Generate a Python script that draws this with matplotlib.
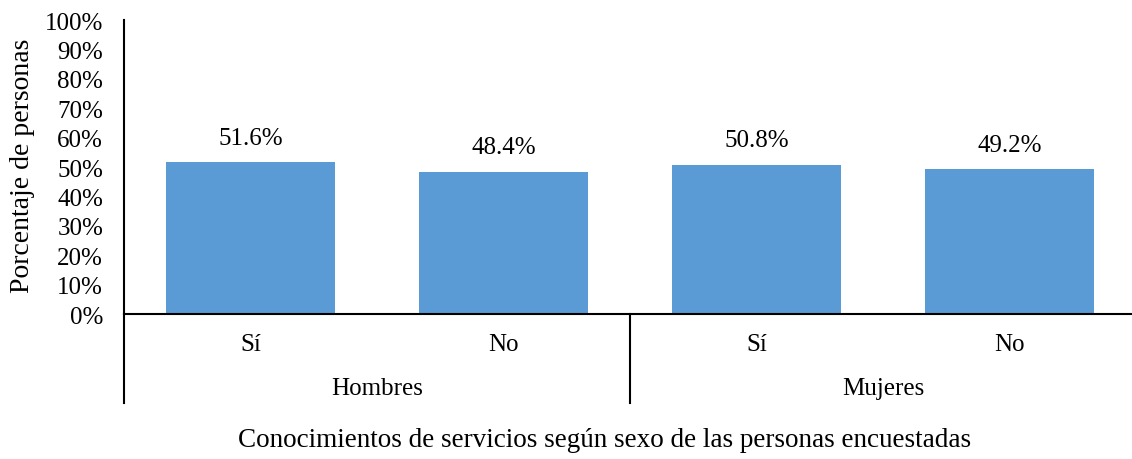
import matplotlib
matplotlib.use("Agg")
import matplotlib.pyplot as plt
import matplotlib.ticker as ticker

# datos
groups = ['Hombres', 'Mujeres']
answers = ['Sí', 'No', 'Sí', 'No']
values = [51.6, 48.4, 50.8, 49.2]
ytick_values = list(range(0, 101, 10))

plt.rcParams['font.family'] = ['Liberation Serif', 'DejaVu Serif']
plt.rcParams['font.size'] = 18

fig = plt.figure(figsize=(11.32, 4.6), dpi=100)
ax = fig.add_axes([124/1132, 1 - 315/460, (1136-124)/1132, 294/460])

x = list(range(len(values)))
bars = ax.bar(x, values, width=0.665, color='#5B9BD5', zorder=2)
for xi, v in zip(x, values):
    ax.text(xi, v + 4.5, f'{v:.1f}%', ha='center', va='bottom', fontsize=18)

ax.set_xlim(-0.5, len(values) - 0.5)
ax.set_ylim(0, 100)
ax.set_yticks(ytick_values)
ax.yaxis.set_major_formatter(ticker.FuncFormatter(lambda v, p: f'{v:.0f}%'))
ax.tick_params(axis='y', length=0, pad=15, labelsize=18)
ax.set_xticks([])

for s in ['top', 'right']:
    ax.spines[s].set_visible(False)
ax.spines['left'].set_linewidth(1.5)
ax.spines['bottom'].set_linewidth(1.5)

tr = ax.get_xaxis_transform()
# lineas de la categoria multinivel
for xs in [-0.5, 1.5]:
    ax.plot([xs, xs], [0, -0.303], transform=tr, color='black', lw=1.5, clip_on=False)

for xi, a in zip(x, answers):
    ax.text(xi, -0.102, a, transform=tr, ha='center', va='center', fontsize=18)
for i, g in enumerate(groups):
    ax.text(2 * i + 0.5, -0.252, g, transform=tr, ha='center', va='center', fontsize=18)

fig.text(605/1132, 1 - 441/460, 'Conocimientos de servicios según sexo de las personas encuestadas',
         ha='center', va='center', fontsize=19.5)
fig.text(23/1132, 1 - 166/460, 'Porcentaje de personas', rotation=90,
         ha='center', va='center', fontsize=20)

fig.savefig('out.png', dpi=100)
